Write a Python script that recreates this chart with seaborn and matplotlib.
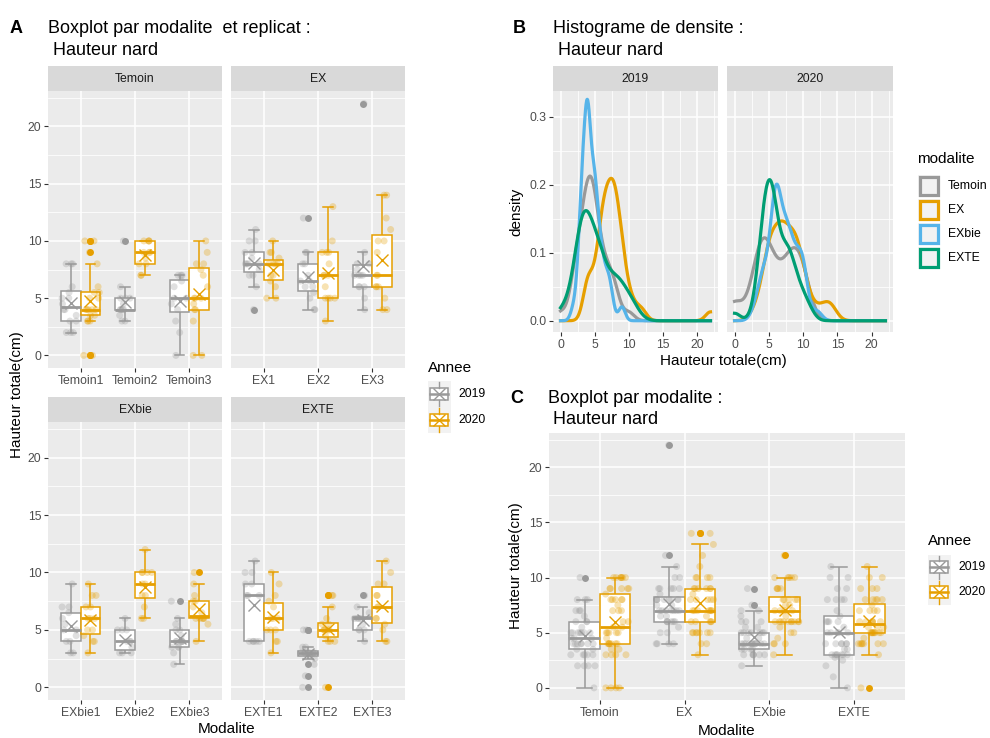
import numpy as np
import pandas as pd
import matplotlib
matplotlib.use("Agg")
import matplotlib.pyplot as plt
import seaborn as sns
from matplotlib.patches import Rectangle
from matplotlib.lines import Line2D
from matplotlib.ticker import MultipleLocator

# ---------------- data (Hauteur totale, cm) ----------------
modalites = ["Temoin", "EX", "EXbie", "EXTE"]
years = ["2019", "2020"]

temoin1_2019 = [2, 2, 2, 3, 3, 3.5, 4, 4, 4.5, 5, 5, 5.5, 6, 8, 8, 8]
temoin1_2020 = [0, 0, 3, 3, 3, 3.5, 3.5, 4, 4, 4, 4, 4, 5, 5, 5.5, 5.5, 6, 8, 9, 10, 10]
temoin2_2019 = [3, 3, 3.5, 4, 4, 4, 4, 4.5, 5, 5, 5, 6, 10]
temoin2_2020 = [7, 7, 8, 8, 8.5, 9, 9, 9, 10, 10, 10, 10]
temoin3_2019 = [0, 2, 3, 4, 4.5, 5, 5, 6, 6.5, 7, 7, 7]
temoin3_2020 = [0, 0, 3, 4, 4, 4.5, 5, 5, 5, 6, 7, 7.5, 8, 8, 9, 10]

ex1_2019 = [4, 6, 7, 7, 7.5, 8, 8, 8, 8, 8.5, 9, 9, 10, 10, 11]
ex1_2020 = [5, 5, 6, 6.5, 7, 7, 8, 8, 8, 8, 8.5, 9, 9, 10]
ex2_2019 = [4, 4, 5, 5.5, 6, 6, 6.5, 6.5, 7, 8, 8, 9, 9, 12]
ex2_2020 = [3, 5, 5, 5, 5, 6, 7, 7, 7, 8, 9, 9, 9, 10, 13]
ex3_2019 = [4, 5, 6, 6, 6, 7, 7, 7, 7, 7.5, 8, 8, 9, 22]
ex3_2020 = [4, 4, 5, 6, 6, 6, 7, 7, 9, 10, 10, 11, 12, 14, 14]

exbie1_2019 = [3, 3, 4, 4, 4.5, 5, 5, 5.5, 6, 6.5, 7, 7, 9]
exbie1_2020 = [3, 4, 4, 4.5, 5, 5, 6, 6, 6, 7, 7, 8, 8, 9]
exbie2_2019 = [3, 3, 3, 3.5, 4, 4, 4, 5, 5, 5, 6]
exbie2_2020 = [6, 6, 7, 8, 8, 9, 9, 10, 10, 10, 10, 12]
exbie3_2019 = [2, 3, 3.5, 3.5, 3.5, 4, 4, 4, 4, 4, 4, 4.5, 5, 5, 5.5, 6, 7.5]
exbie3_2020 = [4, 5.5, 6, 6, 6, 6, 6, 6.5, 7, 7.5, 7.5, 8, 9, 10]

exte1_2019 = [4, 4, 4, 4, 4, 8, 8, 8, 9, 9, 10, 10, 11]
exte1_2020 = [3, 4, 4, 5, 5, 5, 6, 6, 6, 7, 7.5, 8, 9, 10]
exte2_2019 = [0, 1, 2, 2.5, 2.75, 3, 3, 3, 3, 3, 3, 3, 3.5, 3.5, 5, 5]
exte2_2020 = [0, 4, 4, 4, 4.5, 5, 5, 5, 5, 5, 5.5, 5.5, 6, 7, 8, 8]
exte3_2019 = [4, 5, 5, 5, 5.5, 6, 6, 6, 6, 6.5, 7, 8]
exte3_2020 = [4, 4, 5, 5.5, 6, 6, 7, 7, 8, 8, 9, 9, 10, 11]

groups = {
    ("Temoin", "Temoin1"): (temoin1_2019, temoin1_2020),
    ("Temoin", "Temoin2"): (temoin2_2019, temoin2_2020),
    ("Temoin", "Temoin3"): (temoin3_2019, temoin3_2020),
    ("EX", "EX1"): (ex1_2019, ex1_2020),
    ("EX", "EX2"): (ex2_2019, ex2_2020),
    ("EX", "EX3"): (ex3_2019, ex3_2020),
    ("EXbie", "EXbie1"): (exbie1_2019, exbie1_2020),
    ("EXbie", "EXbie2"): (exbie2_2019, exbie2_2020),
    ("EXbie", "EXbie3"): (exbie3_2019, exbie3_2020),
    ("EXTE", "EXTE1"): (exte1_2019, exte1_2020),
    ("EXTE", "EXTE2"): (exte2_2019, exte2_2020),
    ("EXTE", "EXTE3"): (exte3_2019, exte3_2020),
}
rows = []
for (m, r), (v19, v20) in groups.items():
    for yr, vals in zip(years, (v19, v20)):
        for v in vals:
            rows.append((m, r, yr, v))
df = pd.DataFrame(rows, columns=["Modalite", "Replicat", "Annee", "Hauteur"])

YCOL = {"2019": "#999999", "2020": "#E69F00"}
MCOL = {"Temoin": "#999999", "EX": "#E69F00", "EXbie": "#56B4E9", "EXTE": "#009E73"}

# ---------------- figure ----------------
plt.rcParams["font.family"] = ["Liberation Sans", "DejaVu Sans"]
W, H = 990, 738
fig = plt.figure(figsize=(W / 100, H / 100), dpi=100)


def add_ax(x0, y0, x1, y1):
    return fig.add_axes([x0 / W, 1 - y1 / H, (x1 - x0) / W, (y1 - y0) / H])


def ftext(x, y, s, **kw):
    fig.text(x / W, 1 - y / H, s, **kw)


def style(ax, xminor=None):
    ax.set_facecolor("#EBEBEB")
    ax.set_axisbelow(True)
    for s in ax.spines.values():
        s.set_visible(False)
    ax.yaxis.set_minor_locator(MultipleLocator(2.5))
    if xminor is not None:
        ax.xaxis.set_minor_locator(MultipleLocator(xminor))
    ax.grid(which="major", color="white", lw=1.1)
    ax.grid(which="minor", color="white", lw=0.55)
    ax.tick_params(which="major", length=2.75, width=0.8, color="#333333",
                   labelcolor="#4D4D4D", labelsize=8.8, pad=2)
    ax.tick_params(which="minor", length=0)
    ax.set_xlabel("")
    ax.set_ylabel("")


def strip(ax, text, hpx=25):
    bb = ax.get_position()
    hfrac = hpx / (bb.height * H)
    ax.add_patch(Rectangle((0, 1), 1, hfrac, transform=ax.transAxes,
                           facecolor="#D9D9D9", edgecolor="none", clip_on=False))
    ax.text(0.5, 1 + hfrac / 2, text, transform=ax.transAxes, ha="center",
            va="center", fontsize=8.8, color="#1A1A1A")


def draw_boxes(ax, d, xcol, order):
    for yr in years:
        sub = d[d.Annee == yr]
        c = YCOL[yr]
        sns.boxplot(data=sub, x=xcol, y="Hauteur", hue="Annee", order=order,
                    hue_order=years, palette={"2019": "white", "2020": "white"},
                    linecolor=c, linewidth=1.1, width=0.72, gap=0, dodge=True,
                    showmeans=True,
                    meanprops=dict(marker="x", markeredgecolor=c, markersize=9,
                                   markeredgewidth=1.0, zorder=4),
                    flierprops=dict(marker="o", markerfacecolor=c,
                                    markeredgecolor="none", markersize=5),
                    medianprops=dict(linewidth=2.0, color=c),
                    legend=False, ax=ax)
    np.random.seed(3)
    sns.stripplot(data=d, x=xcol, y="Hauteur", hue="Annee", order=order,
                  hue_order=years, palette=YCOL, dodge=True, jitter=0.3,
                  alpha=0.3, size=5, linewidth=0, legend=False, zorder=3, ax=ax)
    ax.set_xlim(-0.6, len(order) - 0.4)
    ax.set_ylim(-1.1, 23.1)
    ax.yaxis.set_major_locator(MultipleLocator(5))


# ---------------- Panel A ----------------
facet_pos = {
    "Temoin": (48, 91, 222, 368),
    "EX": (231, 91, 405, 368),
    "EXbie": (48, 422, 222, 700),
    "EXTE": (231, 422, 405, 700),
}
for m in modalites:
    ax = add_ax(*facet_pos[m])
    d = df[df.Modalite == m]
    order = [f"{m}{i}" for i in (1, 2, 3)]
    draw_boxes(ax, d, "Replicat", order)
    style(ax)
    if m in ("EX", "EXTE"):
        ax.tick_params(axis="y", left=False, labelleft=False)
    strip(ax, m)

ftext(10, 33, "A", fontsize=13, fontweight="bold", va="baseline")
ftext(48, 33, "Boxplot par modalite  et replicat :", fontsize=13, va="baseline")
ftext(48, 55, " Hauteur nard", fontsize=13, va="baseline")
ftext(17, 395, "Hauteur totale(cm)", fontsize=11, rotation=90, ha="center", va="center")
ftext(227, 733, "Modalite", fontsize=11, ha="center", va="baseline")

# ---------------- Panel B ----------------
def nrd0_factor(x):
    x = np.asarray(x, dtype=float)
    sd = x.std(ddof=1)
    q75, q25 = np.percentile(x, [75, 25])
    lo = min(sd, (q75 - q25) / 1.34) if q75 > q25 else sd
    return 0.9 * lo * len(x) ** -0.2 / sd


bpos = {"2019": (553, 91, 718, 332), "2020": (727, 91, 893, 332)}
for yr in years:
    ax = add_ax(*bpos[yr])
    for m in modalites:
        vals = df[(df.Annee == yr) & (df.Modalite == m)].Hauteur.values
        sns.kdeplot(x=vals, bw_method=nrd0_factor(vals), cut=100, clip=(0, 22),
                    gridsize=512, color=MCOL[m], lw=2.3, ax=ax)
    ax.set_xlim(-1.1, 23.1)
    ax.set_ylim(-0.0166, 0.338)
    ax.xaxis.set_major_locator(MultipleLocator(5))
    ax.yaxis.set_major_locator(MultipleLocator(0.1))
    style(ax, xminor=2.5)
    ax.yaxis.set_minor_locator(MultipleLocator(0.05))
    ax.grid(which="minor", color="white", lw=0.55)
    ax.set_yticks([0, 0.1, 0.2, 0.3])
    ax.set_yticklabels(["0.0", "0.1", "0.2", "0.3"])
    if yr == "2020":
        ax.tick_params(axis="y", left=False, labelleft=False)
    strip(ax, yr)

ftext(513, 33, "B", fontsize=13, fontweight="bold", va="baseline")
ftext(553, 33, "Histograme de densite :", fontsize=13, va="baseline")
ftext(553, 55, " Hauteur nard", fontsize=13, va="baseline")
ftext(516, 212, "density", fontsize=11, rotation=90, ha="center", va="center")
ftext(723, 365, "Hauteur totale(cm)", fontsize=11, ha="center", va="baseline")

# legend B
ftext(917, 163, "modalite", fontsize=11, va="baseline")
for i, m in enumerate(modalites):
    yc = 186 + 24 * i
    fig.add_artist(Rectangle(((918) / W, 1 - (yc + 11) / H), 22 / W, 22 / H,
                             transform=fig.transFigure, fc="#F2F2F2", ec="none"))
    fig.add_artist(Rectangle(((920) / W, 1 - (yc + 9) / H), 18 / W, 18 / H,
                             transform=fig.transFigure, fc="#F2F2F2",
                             ec=MCOL[m], lw=2.3))
    ftext(948, yc, m, fontsize=8.8, va="center")

# ---------------- Panel C ----------------
axc = add_ax(549, 433, 905, 700)
draw_boxes(axc, df, "Modalite", modalites)
style(axc)
ftext(510, 403, "C", fontsize=13, fontweight="bold", va="baseline")
ftext(548, 403, "Boxplot par modalite :", fontsize=13, va="baseline")
ftext(548, 424, " Hauteur nard", fontsize=13, va="baseline")
ftext(516, 566, "Hauteur totale(cm)", fontsize=11, rotation=90, ha="center", va="center")
ftext(727, 735, "Modalite", fontsize=11, ha="center", va="baseline")


# ---------------- box legends ----------------
def fline(xs, ys, **kw):
    fig.add_artist(Line2D([x / W for x in xs], [1 - y / H for y in ys],
                          transform=fig.transFigure, **kw))


def box_legend(x0, ytitle, yfirst, step):
    ftext(x0, ytitle, "Annee", fontsize=11, va="baseline")
    for i, yr in enumerate(years):
        yc = yfirst + step * i
        c = YCOL[yr]
        xc = x0 + 11
        fig.add_artist(Rectangle((x0 / W, 1 - (yc + step / 2) / H), 23 / W, step / H,
                                 transform=fig.transFigure, fc="#F2F2F2", ec="none"))
        fline([xc, xc], [yc - step / 2 + 1, yc - 6], color=c, lw=1.0)
        fline([xc, xc], [yc + 6, yc + step / 2 - 1], color=c, lw=1.0)
        fig.add_artist(Rectangle(((xc - 9) / W, 1 - (yc + 6) / H), 18 / W, 12 / H,
                                 transform=fig.transFigure, fc="white", ec=c, lw=1.1))
        fline([xc - 9, xc + 9], [yc, yc], color=c, lw=1.8)
        fline([xc], [yc], color=c, marker="x", markersize=8, markeredgewidth=1.0, lw=0)
        ftext(x0 + 30, yc, yr, fontsize=8.8, va="center")


box_legend(428, 372, 394, 26)
box_legend(928, 545, 567, 25)

fig.savefig("out.png", dpi=100)
